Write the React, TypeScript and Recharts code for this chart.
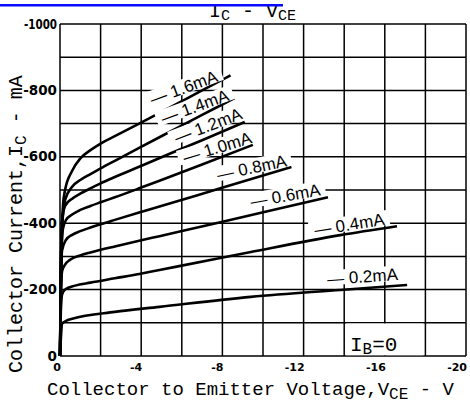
import React from 'react';
import { LineChart, Line, XAxis, YAxis, CartesianGrid, ReferenceArea, ReferenceDot } from 'recharts';

// V_CE (V) / I_C (mA) curves for each base current
const ib16 = [
  { v: 0, i: 0 }, { v: -0.05, i: -300 }, { v: -0.15, i: -455 }, { v: -0.25, i: -500 }, { v: -0.6, i: -558 },
  { v: -1.0, i: -595 }, { v: -1.5, i: -620 }, { v: -2.0, i: -640 }, { v: -2.7, i: -662 }, { v: -3.9, i: -700 },
  { v: -5.4, i: -748 }, { v: -7.0, i: -800 }, { v: -8.4, i: -845 },
];
const ib14 = [
  { v: 0, i: 0 }, { v: -0.05, i: -290 }, { v: -0.15, i: -430 }, { v: -0.25, i: -470 }, { v: -0.6, i: -510 },
  { v: -1.0, i: -530 }, { v: -1.5, i: -548 }, { v: -2.0, i: -565 }, { v: -2.7, i: -588 }, { v: -3.9, i: -627 },
  { v: -5.4, i: -675 }, { v: -7.0, i: -726 }, { v: -8.6, i: -777 },
];
const ib12 = [
  { v: 0, i: 0 }, { v: -0.05, i: -270 }, { v: -0.1, i: -400 }, { v: -0.25, i: -452 }, { v: -0.6, i: -474 },
  { v: -1.0, i: -489 }, { v: -1.5, i: -505 }, { v: -2.0, i: -520 }, { v: -2.7, i: -539 }, { v: -3.9, i: -570 },
  { v: -5.4, i: -609 }, { v: -7.0, i: -650 }, { v: -9.1, i: -705 },
];
const ib10 = [
  { v: 0, i: 0 }, { v: -0.05, i: -250 }, { v: -0.15, i: -385 }, { v: -0.3, i: -410 }, { v: -0.6, i: -426 },
  { v: -1.0, i: -440 }, { v: -1.5, i: -452 }, { v: -2.0, i: -463 }, { v: -2.7, i: -478 }, { v: -3.9, i: -505 },
  { v: -4.9, i: -528 }, { v: -7.0, i: -577 }, { v: -9.5, i: -636 },
];
const ib08 = [
  { v: 0, i: 0 }, { v: -0.05, i: -220 }, { v: -0.1, i: -318 }, { v: -0.3, i: -350 }, { v: -0.6, i: -365 },
  { v: -1.0, i: -376 }, { v: -1.5, i: -387 }, { v: -2.0, i: -397 }, { v: -2.7, i: -410 }, { v: -3.9, i: -432 },
  { v: -4.9, i: -450 }, { v: -7.9, i: -505 }, { v: -11.4, i: -569 },
];
const ib06 = [
  { v: 0, i: 0 }, { v: -0.05, i: -195 }, { v: -0.1, i: -255 }, { v: -0.25, i: -275 }, { v: -0.5, i: -290 },
  { v: -1.0, i: -303 }, { v: -1.5, i: -312 }, { v: -2.0, i: -320 }, { v: -2.7, i: -330 }, { v: -3.9, i: -347 },
  { v: -4.9, i: -361 }, { v: -7.9, i: -403 }, { v: -9.85, i: -431 }, { v: -13.2, i: -478 },
];
const ib04 = [
  { v: 0, i: 0 }, { v: -0.05, i: -150 }, { v: -0.1, i: -185 }, { v: -0.25, i: -200 }, { v: -0.75, i: -212 },
  { v: -1.5, i: -221 }, { v: -2.7, i: -234 }, { v: -3.9, i: -247 }, { v: -4.9, i: -259 }, { v: -7.9, i: -295 },
  { v: -9.4, i: -313 }, { v: -13.8, i: -364 }, { v: -16.6, i: -391 },
];
const ib02 = [
  { v: 0, i: 0 }, { v: -0.05, i: -60 }, { v: -0.1, i: -97 }, { v: -0.3, i: -106 }, { v: -0.6, i: -112 },
  { v: -2.7, i: -133 }, { v: -4.9, i: -148 }, { v: -9.4, i: -178 }, { v: -13.8, i: -199 }, { v: -17.1, i: -214 },
];

const series = [ib16, ib14, ib12, ib10, ib08, ib06, ib04, ib02];
const seriesNames = ['1.6mA', '1.4mA', '1.2mA', '1.0mA', '0.8mA', '0.6mA', '0.4mA', '0.2mA'];

const xTicks = [0, -2, -4, -6, -8, -10, -12, -14, -16, -18, -20];
const xTickLabels = ['0', '', '-4', '', '-8', '', '-12', '', '-16', '', '-20'];
const yTicks = [0, -100, -200, -300, -400, -500, -600, -700, -800, -900, -1000];
const yTickLabels = ['0', '', '-200', '', '-400', '', '-600', '', '-800', '', '-1000'];

// label anchor (data coords) and rotation for each curve label
const labelLayout = [
  { v: -6.1, i: -807, a: -20, w: 71 },
  { v: -6.65, i: -750, a: -20, w: 71 },
  { v: -7.3, i: -693, a: -21, w: 71 },
  { v: -7.75, i: -627, a: -17, w: 71 },
  { v: -9.45, i: -566, a: -12, w: 71 },
  { v: -11.1, i: -482, a: -10, w: 71 },
  { v: -14.25, i: -395, a: -9, w: 71 },
  { v: -14.9, i: -238, a: -4, w: 71 },
];

const XTick = (props: any) => {
  const { x, y, payload } = props;
  const idx = xTicks.indexOf(payload.value);
  const t = idx >= 0 ? xTickLabels[idx] : '';
  if (!t) return <g />;
  return (
    <text x={x + 1} y={y + 15} textAnchor="end" fontFamily="DejaVu Sans" fontWeight="bold" fontSize={11} fill="#000">
      {t}
    </text>
  );
};

const YTick = (props: any) => {
  const { x, y, payload } = props;
  const idx = yTicks.indexOf(payload.value);
  const t = idx >= 0 ? yTickLabels[idx] : '';
  if (!t) return <g />;
  const extra = t.length > 4 ? { textLength: 33, lengthAdjust: 'spacingAndGlyphs' as const } : {};
  return (
    <text x={x} y={y + 4.5} textAnchor="end" fontFamily="DejaVu Sans" fontWeight="bold" fontSize={13.5} fill="#000" {...extra}>
      {t}
    </text>
  );
};

const makeLabelShape = (text: string, angle: number, w: number) => (props: any) => {
  const { cx, cy } = props;
  return (
    <g transform={`translate(${cx},${cy}) rotate(${angle})`}>
      <rect x={-w / 2 - 5} y={-9} width={w + 10} height={15} fill="#fff" />
      <text x={0} y={5.5} textAnchor="middle" fontFamily="Liberation Sans" fontSize={17} fill="#000">
        {'— ' + text}
      </text>
    </g>
  );
};

export default function App() {
  return (
    <div style={{ position: 'absolute', left: 0, top: 0, width: 470, height: 408, background: '#fff' }}>
      <LineChart width={470} height={408} margin={{ top: 24, right: 4, bottom: 0, left: 10 }}>
        <CartesianGrid stroke="#000" strokeWidth={1.5} />
        <XAxis
          dataKey="v"
          type="number"
          domain={[-20, 0]}
          reversed
          ticks={xTicks}
          interval={0}
          height={52}
          axisLine={false}
          tickLine={false}
          tickSize={0}
          tickMargin={0}
          tick={<XTick />}
          allowDuplicatedCategory={false}
        />
        <YAxis
          type="number"
          domain={[-1000, 0]}
          reversed
          ticks={yTicks}
          interval={0}
          width={50}
          axisLine={false}
          tickLine={false}
          tickSize={0}
          tickMargin={3}
          tick={<YTick />}
        />
        <ReferenceArea x1={-14.1} x2={-17.9} y1={-2} y2={-98} fill="#fff" fillOpacity={1} stroke="none" />
        {labelLayout.map((l, k) => (
          <ReferenceDot key={'lab' + k} x={l.v} y={l.i} r={0} shape={makeLabelShape(seriesNames[k], l.a, l.w)} />
        ))}
        {series.map((d, k) => (
          <Line
            key={seriesNames[k]}
            data={d}
            dataKey="i"
            type="monotone"
            stroke="#000"
            strokeWidth={2.6}
            dot={false}
            isAnimationActive={false}
          />
        ))}
      </LineChart>
      <svg width={470} height={408} style={{ position: 'absolute', left: 0, top: 0, pointerEvents: 'none' }}>
        <text x={209} y={17} fontFamily="Liberation Mono" fontSize={20} fill="#000">
          I<tspan fontSize={15} dy={3}>C</tspan>
          <tspan dy={-3}> - V</tspan>
          <tspan fontSize={15} dy={3}>CE</tspan>
        </text>
        <rect x={0} y={4} width={283} height={2.5} fill="#0a0aff" />
        <text x={350} y={351} fontFamily="Liberation Mono" fontSize={21} fill="#000">
          I<tspan fontSize={16} dy={3}>B</tspan>
          <tspan dy={-3}>=0</tspan>
        </text>
        <text x={47} y={395} fontFamily="Liberation Mono" fontSize={19} fill="#000">
          Collector to Emitter Voltage,V<tspan fontSize={16} dy={4}>CE</tspan>
          <tspan dy={-4}> - V</tspan>
        </text>
        <text
          x={0}
          y={0}
          transform="translate(22,373) rotate(-90)"
          fontFamily="Liberation Mono"
          fontSize={20}
          fill="#000"
        >
          Collector Current,I<tspan fontSize={16} dy={4}>C</tspan>
          <tspan dy={-4}> - mA</tspan>
        </text>
      </svg>
    </div>
  );
}
